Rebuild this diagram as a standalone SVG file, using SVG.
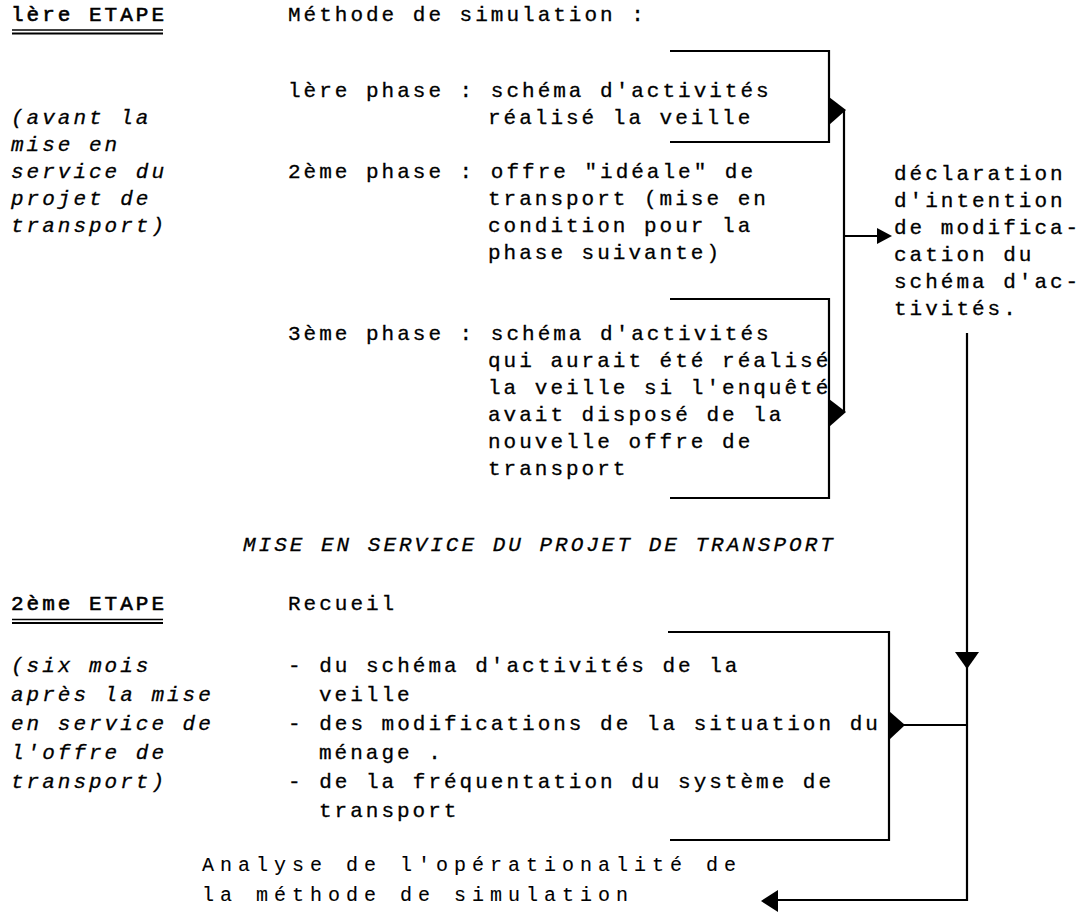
<svg xmlns="http://www.w3.org/2000/svg" width="1083" height="914" viewBox="0 0 1083 914">
<style>
text{font-family:"Liberation Mono","DejaVu Sans Mono",monospace;font-size:21px;fill:#000;stroke:#000;stroke-width:0.3px;letter-spacing:3px}
.it{font-style:italic}
.b{stroke-width:0.6px}
.wide{font-size:20px;letter-spacing:6px;stroke-width:0.1px}
.ln{fill:none;stroke:#000;stroke-width:2.2}
.ul{stroke:#000}
.ah{fill:#000;stroke:none}
</style>
<rect width="1083" height="914" fill="#fff"/>
<g id="etape1-title">
<text x="11" y="21" class="b">lère ETAPE</text>
<line class="ul" x1="12" y1="30" x2="163" y2="30" stroke-width="1.3"/>
<line class="ul" x1="12" y1="33.5" x2="163" y2="33.5" stroke-width="2.2"/>
</g>
<g id="etape1-note">
<text x="11" y="124" class="it">(avant la</text>
<text x="11" y="151" class="it">mise en</text>
<text x="11" y="178" class="it">service du</text>
<text x="11" y="205" class="it">projet de</text>
<text x="11" y="232" class="it">transport)</text>
</g>
<g id="methode">
<text x="288" y="21">Méthode de simulation :</text>
</g>
<g id="phase1">
<text x="288" y="97">lère phase : schéma d'activités</text>
<text x="488" y="124">réalisé la veille</text>
</g>
<g id="phase2">
<text x="288" y="178">2ème phase : offre "idéale" de</text>
<text x="488" y="205">transport (mise en</text>
<text x="488" y="232">condition pour la</text>
<text x="488" y="259">phase suivante)</text>
</g>
<g id="phase3">
<text x="288" y="340">3ème phase : schéma d'activités</text>
<text x="488" y="367">qui aurait été réalisé</text>
<text x="488" y="394">la veille si l'enquêté</text>
<text x="488" y="421">avait disposé de la</text>
<text x="488" y="448">nouvelle offre de</text>
<text x="488" y="475">transport</text>
</g>
<g id="declaration">
<text x="894" y="180">déclaration</text>
<text x="894" y="207">d'intention</text>
<text x="894" y="234">de modifica-</text>
<text x="894" y="261">cation du</text>
<text x="894" y="288">schéma d'ac-</text>
<text x="894" y="315">tivités.</text>
</g>
<g id="mise-en-service">
<text x="243" y="551" class="it">MISE EN SERVICE DU PROJET DE TRANSPORT</text>
</g>
<g id="etape2-title">
<text x="11" y="610" class="b">2ème ETAPE</text>
<line class="ul" x1="12" y1="619.5" x2="163" y2="619.5" stroke-width="1.3"/>
<line class="ul" x1="12" y1="623" x2="163" y2="623" stroke-width="2.2"/>
</g>
<g id="etape2-note">
<text x="11" y="672" class="it">(six mois</text>
<text x="11" y="701" class="it">après la mise</text>
<text x="11" y="730" class="it">en service de</text>
<text x="11" y="759" class="it">l'offre de</text>
<text x="11" y="788" class="it">transport)</text>
</g>
<g id="recueil">
<text x="288" y="610">Recueil</text>
<text x="288" y="672">- du schéma d'activités de la</text>
<text x="319" y="701">veille</text>
<text x="288" y="730">- des modifications de la situation du</text>
<text x="319" y="759">ménage .</text>
<text x="288" y="788">- de la fréquentation du système de</text>
<text x="319" y="817">transport</text>
</g>
<g id="analyse">
<text x="202" y="871" class="wide">Analyse de l'opérationalité de</text>
<text x="202" y="901" class="wide">la méthode de simulation</text>
</g>
<g id="connectors">
<path class="ln" d="M670,51 H829 V142 H670"/>
<path class="ln" d="M670,299 H829 V498 H670"/>
<path class="ln" d="M668,632 H889 V840 H670"/>
<polygon class="ah" points="829,97 846,110 829,125"/>
<polygon class="ah" points="829,399 846,412 829,427"/>
<path class="ln" d="M844,110 V412"/>
<path class="ln" d="M844,236 H880"/>
<polygon class="ah" points="877,228 892,236 877,244"/>
<path class="ln" d="M967,333 V900 H774"/>
<polygon class="ah" points="955,652 979,652 967,669"/>
<polygon class="ah" points="889,711 905,725 889,740"/>
<path class="ln" d="M904,725 H967"/>
<polygon class="ah" points="778,890 761,901 778,912"/>
</g>
</svg>
